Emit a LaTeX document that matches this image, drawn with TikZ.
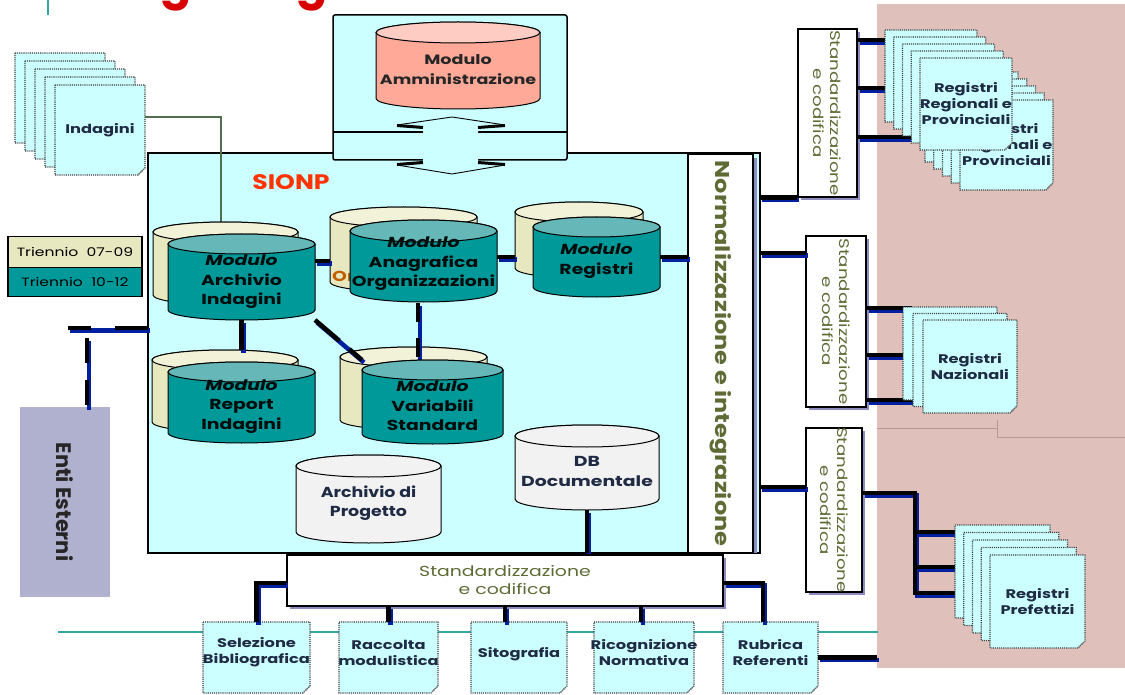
\documentclass[tikz,border=0pt]{standalone}
\usepackage{fontspec}
\setmainfont{Poppins}
\newfontfamily\widefont{Poppins}[FakeStretch=1.3]
\newfontfamily\midfont{Poppins}[FakeStretch=1.2]
\usetikzlibrary{shadows,calc}
\definecolor{cyanbg}{HTML}{CCFFFF}
\definecolor{tealC}{HTML}{009999}
\definecolor{tealT}{HTML}{66B8B8}
\definecolor{beigeC}{HTML}{E8E8C0}
\definecolor{beigeT}{HTML}{F2F2D8}
\definecolor{pinkC}{HTML}{FFAA99}
\definecolor{pinkT}{HTML}{FFCCC4}
\definecolor{grayC}{HTML}{F2F2F2}
\definecolor{pinkbg}{HTML}{DFC0BB}
\definecolor{entiC}{HTML}{B0B0CF}
\definecolor{busblue}{HTML}{0020A0}
\definecolor{olive}{HTML}{5E6B35}
\definecolor{navytext}{HTML}{1F2A44}
\definecolor{sionpred}{HTML}{FF3300}
\definecolor{tealline}{HTML}{33A6A6}
\definecolor{shadowblue}{HTML}{8C8CC0}
\definecolor{indline}{HTML}{4F6F50}
\definecolor{pinkline}{HTML}{B89A95}
\tikzset{
  bus/.style={line width=4.5pt, draw=black, preaction={draw=busblue, line width=4.5pt, transform canvas={shift={(2pt,-2.5pt)}}}},
  cylline/.style={draw=black, line width=1pt},
  notepg/.style={draw=black!75, densely dotted, line width=1.1pt, fill=cyanbg},
  cyltext/.style={align=center, font=\widefont\bfseries\fontsize{14.5}{19.5}\selectfont, text=black!90!teal, inner sep=0},
  notetext/.style={align=center, font=\widefont\bfseries\fontsize{12.5}{16}\selectfont, text=navytext, inner sep=0},
  stdtext/.style={align=center, font=\widefont\fontsize{14}{17}\selectfont, text=olive, inner sep=0},
  stdbox/.style={draw=black, line width=1.3pt, fill=white, inner sep=0, drop shadow={shadow xshift=3pt, shadow yshift=-3pt, fill=shadowblue, opacity=1}},
  legbox/.style={draw=black, line width=1.3pt, inner sep=0, font=\widefont\fontsize{12}{14}\selectfont},
  area/.style={inner sep=0, outer sep=0}
}
\newcommand\dbcyl[8]{%
  \pgfmathsetmacro\cx{(#2+#4)/2}%
  \pgfmathsetmacro\rx{(#4-#2)/2}%
  \pgfmathsetmacro\cyt{#3+#8}%
  \pgfmathsetmacro\cyb{#5-#8}%
  \pgfmathsetmacro\cyc{(#3+#5)/2}%
  \pgfmathsetmacro\ww{#4-#2}%
  \pgfmathsetmacro\hh{#5-#3}%
  \filldraw[cylline, fill=#6] (#2,\cyt) -- (#2,\cyb) arc[start angle=180,end angle=360,x radius=\rx pt,y radius=#8 pt] -- (#4,\cyt) arc[start angle=0,end angle=180,x radius=\rx pt,y radius=#8 pt] -- cycle;
  \filldraw[cylline, fill=#7] (\cx,\cyt) ellipse[x radius=\rx pt, y radius=#8 pt];
  \node[area, minimum width=\ww pt, minimum height=\hh pt] (#1) at (\cx,\cyc) {};
}
\newcommand\notepage[4]{%
  \filldraw[notepg] (#1,#2) -- ++(#3,0) -- ++(0,{#4-7}) -- ++(-7,7) -- ++({-#3+7},0) -- cycle;
  \fill[black!55] ({#1+#3-7},{#2+#4}) -- ++(7,-7) -- ++(-4,3) -- cycle;
}
\newcommand\notestack[8]{%
  \pgfmathtruncatemacro\nm{#6-1}%
  \foreach \k in {\nm,...,0}{%
    \pgfmathsetmacro\pgL{#2-\k*#7}%
    \pgfmathsetmacro\pgT{#3-\k*#8}%
    \notepage{\pgL}{\pgT}{#4}{#5}%
  }%
  \node[area, minimum width=#4 pt, minimum height=#5 pt] (#1) at ({#2+#4/2},{#3+#5/2}) {};
}
\begin{document}
\begin{tikzpicture}[x=1pt,y=-1pt]
\useasboundingbox (0,0) rectangle (1125,695);
\fill[white] (0,0) rectangle (1125,695);
% pink background
\node[area, fill=pinkbg, minimum width=248pt, minimum height=664pt] (pink) at (1001,336) {};
\draw[pinkline, line width=0.8pt] (877,428) -- (997,428);
\draw[pinkline, line width=0.8pt] (997,420) -- (997,437) -- (1125,437);
% title fragments
\draw[tealline, line width=2pt] (48,0) -- (48,15);
\node[anchor=base, inner sep=0, text=red!85!black, font=\bfseries\fontsize{46}{50}\selectfont] (tg1) at (176,-1) {g};
\node[anchor=base, inner sep=0, text=red!85!black, font=\bfseries\fontsize{46}{50}\selectfont] (tg2) at (312,-1) {g};
% teal base line
\draw[tealline, line width=1.3pt] (58,632) -- (878,632);

% main SIONP box
\node[area, draw=black, line width=2pt, fill=cyanbg, minimum width=612pt, minimum height=400pt] (sionp) at (454,353) {};
\node[inner sep=0, text=sionpred, font=\midfont\bfseries\fontsize{21}{24}\selectfont] (sionplbl) at (291,182) {SIONP};

% Amministrazione box
\node[area, draw=black, line width=1.5pt, fill=cyanbg, rounded corners=2pt, minimum width=234pt, minimum height=145pt] (ammbox) at (450,87.5) {};
\draw[line width=1.2pt] ([yshift=-117pt]ammbox.north west) -- ([yshift=-117pt]ammbox.north east);
\fill[cyanbg] (452,117) -- (505,125) -- (478,128) -- (478,163) -- (505,165) -- (452,174) -- (397,165) -- (423,163) -- (423,128) -- (397,125) -- cycle;
\draw[line width=0.9pt] (397,125) -- (452,117) -- (505,125);
\draw[line width=3pt] (397,125.5) -- (423,127.5);
\draw[line width=3pt] (478,127.5) -- (505,125.5);
\draw[line width=3pt] (397,164.5) -- (423,162.5);
\draw[line width=3pt] (478,162.5) -- (505,164.5);
\draw[line width=0.9pt] (397,165) -- (452,174) -- (505,165);
\dbcyl{amm}{376}{22}{540}{109}{pinkC}{pinkT}{10.5}
\node[cyltext, font=\widefont\bfseries\fontsize{13.5}{19.5}\selectfont, text=black!85] at ([yshift=-4pt]amm.center) {Modulo\\Amministrazione};

% Normalizzazione box
\fill[shadowblue] (692,158) rectangle (757,553);
\node[area, draw=black, line width=1.2pt, fill=white, minimum width=65pt, minimum height=399pt] (norm) at (720.5,353.5) {};
\node[rotate=-90, inner sep=0, text=olive, font=\midfont\bfseries\fontsize{20}{22}\selectfont] (normlbl) at (norm.center) {Normalizzazione e integrazione};

% Indagini stack
\notestack{ind}{55}{85}{90}{90}{5}{10}{8}
\node[notetext] (indlbl) at (ind.center) {Indagini};
\coordinate (ij) at (221,117);
\draw[indline, line width=1.4pt] (ind.east |- ij) -- (ij) -- (ij |- 0,222);

% back cylinders and connectors
\dbcyl{archB}{153}{222}{298}{305}{beigeC}{beigeT}{10}
\dbcyl{anaB}{330}{207}{477}{292}{beigeC}{beigeT}{10}
\dbcyl{regB}{515}{202}{643}{278}{beigeC}{beigeT}{10}
\dbcyl{repB}{152}{350}{298}{432}{beigeC}{beigeT}{10}
\dbcyl{varB}{340}{347}{487}{430}{beigeC}{beigeT}{10}
\node[area, minimum width=147pt, minimum height=86pt] (arch0) at (241.5,277) {};
\node[area, minimum width=147pt, minimum height=82pt] (ana0) at (423.5,261) {};
\node[area, minimum width=127pt, minimum height=80pt] (reg0) at (596.5,257) {};
\node[area, minimum width=147pt, minimum height=81pt] (rep0) at (241.5,402.5) {};
\node[area, minimum width=141pt, minimum height=84pt] (var0) at (432.5,402) {};
\draw[bus] (arch0.east |- ana0.west) -- (anaB.west |- ana0.west);
\draw[bus] (ana0.east |- reg0.west) -- (regB.west |- reg0.west);
\draw[bus] (reg0.east) -- (reg0.east -| norm.west);
\draw[bus] (arch0.south) -- (arch0.south |- repB.north);
\draw[bus, dash pattern=on 32pt off 13pt] (arch0.south east) -- (var0.north west);
\coordinate (avj) at (418,303);
\draw[bus, dash pattern=on 19pt off 16pt] (avj) -- (avj |- var0.north);
\node[anchor=west, inner sep=0, font=\widefont\bfseries\fontsize{14.5}{19.5}\selectfont, text=orange!75!black] (orfrag) at (332,276) {Or};

% front cylinders
\dbcyl{arch}{168}{234}{315}{320}{tealC}{tealT}{10}
\node[cyltext] at ([yshift=-5pt]arch.center) {{\itshape Modulo}\\Archivio\\Indagini};
\dbcyl{ana}{350}{220}{497}{302}{tealC}{tealT}{11}
\node[cyltext] at ([yshift=-3pt]ana.center) {{\itshape Modulo}\\Anagrafica\\Organizzazioni};
\dbcyl{reg}{533}{217}{660}{297}{tealC}{tealT}{10}
\node[cyltext] at ([yshift=-4pt]reg.center) {{\itshape Modulo}\\Registri};
\dbcyl{rep}{168}{362}{315}{443}{tealC}{tealT}{10}
\node[cyltext] at ([yshift=-4pt]rep.center) {{\itshape Modulo}\\Report\\Indagini};
\dbcyl{var}{362}{360}{503}{444}{tealC}{tealT}{10}
\node[cyltext] at ([yshift=-4pt]var.center) {{\itshape Modulo}\\Variabili\\Standard};
\dbcyl{prog}{296}{455}{441}{543}{grayC}{grayC}{11}
\node[cyltext, font=\midfont\bfseries\fontsize{14.5}{19.5}\selectfont, text=navytext] at ([yshift=-4pt]prog.center) {Archivio di\\Progetto};
\dbcyl{db}{515}{425}{659}{510}{grayC}{grayC}{11}
\node[cyltext, text=navytext] at ([yshift=-4pt]db.center) {DB\\Documentale};
\draw[bus] (db.south) -- (db.south |- sionp.south);

% legend
\node[legbox, fill=beigeC, minimum width=134pt, minimum height=31pt] (leg1) at (75,252) {Triennio\ \ 07-09};
\node[legbox, fill=tealC, minimum width=134pt, minimum height=29pt] (leg2) at (75,282) {Triennio\ \ 10-12};

% Enti Esterni
\node[area, fill=entiC, minimum width=90pt, minimum height=190pt] (enti) at (65,502) {};
\node[rotate=-90, inner sep=0, font=\bfseries\fontsize{21}{24}\selectfont, text=black!85] (entilbl) at (enti.center) {Enti Esterni};
\coordinate (lt) at (68,328);
\coordinate (lj) at (87,338);
\draw[bus, dash pattern=on 33pt off 24pt] (lt -| sionp.west) -- (lt);
\draw[bus, dash pattern=on 25pt off 17pt] (lj) -- (lj |- enti.north);

% right standardizzazione boxes
\node[stdbox, minimum width=59pt, minimum height=168pt] (stA) at (827.5,113) {};
\node[stdtext, rotate=-90] at (stA.center) {Standardizzazione\\e codifica};
\node[stdbox, minimum width=60pt, minimum height=171pt] (stB) at (836,321.5) {};
\node[stdtext, rotate=-90] at (stB.center) {Standardizzazione\\e codifica};
\node[stdbox, minimum width=56pt, minimum height=164pt] (stC) at (834,510) {};
\node[stdtext, rotate=-90] at (stC.center) {Standardizzazione\\e codifica};
\coordinate (rb) at (806,253);
\coordinate (rc) at (806,487);
\draw[bus] (sionp.east |- stA.south west) -- (stA.south west);
\draw[bus] (rb -| sionp.east) -- (rb);
\draw[bus] (rc -| sionp.east) -- (rc);
\coordinate (ra1) at (905,40);
\coordinate (ra2) at (905,88);
\coordinate (ra3) at (918,137);
\draw[bus] (ra1 -| stA.east) -- (ra1);
\draw[bus] (ra2 -| stA.east) -- (ra2);
\draw[bus] (ra3 -| stA.east) -- (ra3);
\coordinate (rn1) at (912,308);
\coordinate (rn2) at (912,355);
\coordinate (rn3) at (912,400);
\draw[bus] (rn1 -| stB.east) -- (rn1);
\draw[bus] (rn2 -| stB.east) -- (rn2);
\draw[bus] (rn3 -| stB.east) -- (rn3);
\coordinate (pj) at (915,493);
\coordinate (pb1) at (960,532);
\coordinate (pb2) at (960,567);
\coordinate (pb3) at (960,593);
\draw[bus] (pj -| stC.east) -- (pj) -- (pj |- pb3) -- (pb3);
\draw[bus] (pj |- pb1) -- (pb1);
\draw[bus] (pj |- pb2) -- (pb2);

% stacks on the right
\notestack{regp2}{960}{100}{93}{90}{5}{8.75}{7}
\node[notetext] at (regp2.center) {Registri\\Regionali e\\Provinciali};
\notestack{regp}{920}{58}{92}{92}{5}{8.75}{7}
\node[notetext] at (regp.center) {Registri\\Regionali e\\Provinciali};
\notestack{naz}{923}{320}{94}{93}{3}{10}{6.5}
\node[notetext] at (naz.center) {Registri\\Nazionali};
\notestack{pref}{990}{555}{95}{93}{5}{8.75}{7.5}
\node[notetext] at (pref.center) {Registri\\Prefettizi};

% bottom standardizzazione box
\node[stdbox, minimum width=436pt, minimum height=51pt] (stD) at (505,580.5) {};
\node[stdtext, font=\widefont\fontsize{14.5}{18}\selectfont] at (stD.center) {Standardizzazione\\e codifica};

% bottom notes
\notestack{sel}{203}{622}{107}{71}{1}{0}{0}
\notestack{rac}{339}{622}{99}{71}{1}{0}{0}
\notestack{sito}{471}{622}{96}{71}{1}{0}{0}
\notestack{ric}{594}{622}{100}{71}{1}{0}{0}
\notestack{rub}{723}{622}{95}{71}{1}{0}{0}
\node[notetext] at ([yshift=5pt]sel.center) {Selezione\\Bibliografica};
\node[notetext] at ([yshift=5pt]rac.center) {Raccolta\\modulistica};
\node[notetext] at ([yshift=3pt]sito.center) {Sitografia};
\node[notetext] at ([yshift=5pt]ric.center) {Ricognizione\\Normativa};
\node[notetext] at ([yshift=5pt]rub.center) {Rubrica\\Referenti};
\coordinate (sj) at (505,606);
\coordinate (rcj) at (641,606);
\coordinate (rj) at (763,583);
\draw[bus] (stD.west |- rj) -| (sel.north);
\draw[bus] (stD.south -| rac.north) -- (rac.north);
\draw[bus] (sj) -- (sj |- sito.north);
\draw[bus] (rcj) -- (rcj |- ric.north);
\draw[bus] (stD.east |- rj) -- (rj) -- (rj |- rub.north);
\draw[bus] (rub.east) -- (rub.east -| pink.west);
\end{tikzpicture}
\end{document}
